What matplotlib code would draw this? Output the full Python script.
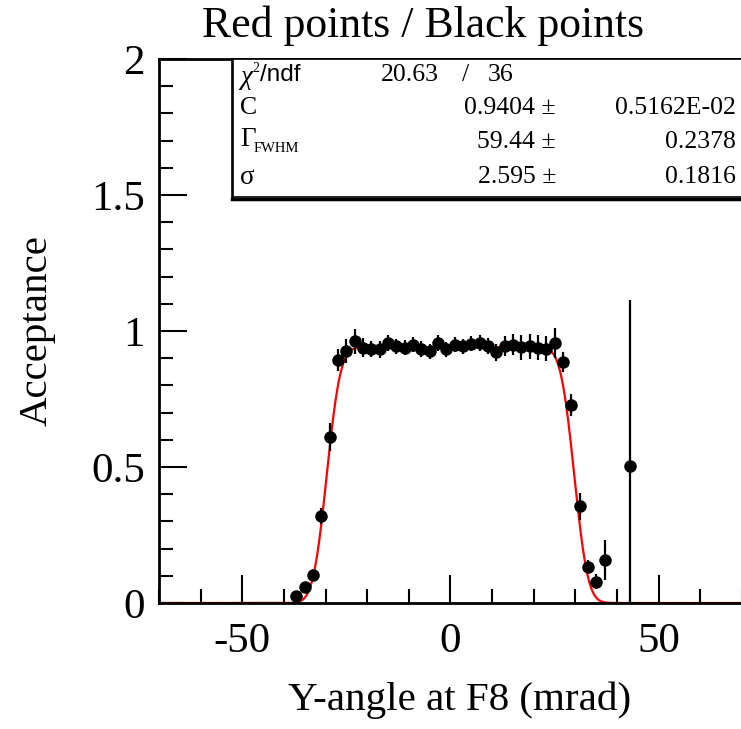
import math
import numpy as np
import matplotlib
matplotlib.use("Agg")
import matplotlib.pyplot as plt
from matplotlib.patches import Rectangle
from matplotlib.ticker import MultipleLocator, FixedLocator, FixedFormatter

# ---------------- data ----------------
x_vals = [-37, -35, -33, -31, -29, -27, -25, -23, -21, -19, -17, -15, -13, -11, -9, -7, -5, -3, -1,
          1, 3, 5, 7, 9, 11, 13, 15, 17, 19, 21, 23, 25, 27, 29, 31, 33, 35, 37, 43]
y_vals = [0.026, 0.058, 0.103, 0.319, 0.609, 0.892, 0.926, 0.962, 0.938, 0.934, 0.932, 0.956, 0.944,
          0.938, 0.950, 0.934, 0.926, 0.956, 0.932, 0.950, 0.944, 0.954, 0.956, 0.944, 0.922, 0.944,
          0.950, 0.940, 0.944, 0.938, 0.934, 0.956, 0.886, 0.727, 0.355, 0.134, 0.078, 0.158, 0.502]
y_errs = [0.008, 0.012, 0.012, 0.030, 0.052, 0.040, 0.045, 0.046, 0.035, 0.030, 0.030, 0.030, 0.028,
          0.028, 0.028, 0.028, 0.028, 0.028, 0.028, 0.028, 0.028, 0.028, 0.028, 0.030, 0.032, 0.036,
          0.040, 0.045, 0.046, 0.046, 0.046, 0.055, 0.037, 0.040, 0.050, 0.025, 0.028, 0.074, 0.612]

fit_C = 0.9404
fit_C_err = "0.5162E-02"
fit_G = 59.44
fit_G_err = "0.2378"
fit_sigma = 2.595
fit_sigma_err = "0.1816"
chi2 = "20.63"
ndf = "36"

title = "Red points / Black points"
xlabel = "Y-angle at F8 (mrad)"
ylabel = "Acceptance"
xtick_vals = [-50, 0, 50]
xtick_labels = ["-50", "0", "50"]
ytick_vals = [0, 0.5, 1, 1.5, 2]
ytick_labels = ["0", "0.5", "1", "1.5", "2"]

# ---------------- figure ----------------
W, H = 741, 729
fig = plt.figure(figsize=(W / 100, H / 100), dpi=100)
serif = "Liberation Serif"
sans = "Liberation Sans"

def fx(px):
    return px / W

def fy(py):
    return 1 - py / H

ax_l, ax_r, ax_t, ax_b = 159, 742, 59, 603
ax = fig.add_axes([fx(ax_l), fy(ax_b), fx(ax_r) - fx(ax_l), fy(ax_t) - fy(ax_b)])
ax.set_xlim(-70, 70)
ax.set_ylim(0, 2)

# fit curve
xx = np.linspace(-70, 70, 2001)
erf = np.vectorize(math.erf)
s2 = fit_sigma * math.sqrt(2)
yy = fit_C / 2 * (erf((xx + fit_G / 2) / s2) - erf((xx - fit_G / 2) / s2))
ax.plot(xx, yy, color="#ff0000", lw=1.6, zorder=2, clip_on=True)

ax.errorbar(x_vals, y_vals, yerr=y_errs, fmt="o", color="black", ms=8, elinewidth=1.6,
            capsize=0, zorder=3, clip_on=True)

for sp in ["left", "bottom", "top"]:
    ax.spines[sp].set_linewidth(2.0)
ax.spines["right"].set_visible(False)

ax.xaxis.set_major_locator(FixedLocator(xtick_vals))
ax.xaxis.set_major_formatter(FixedFormatter(xtick_labels))
ax.xaxis.set_minor_locator(MultipleLocator(10))
ax.yaxis.set_major_locator(FixedLocator(ytick_vals))
ax.yaxis.set_major_formatter(FixedFormatter(ytick_labels))
ax.yaxis.set_minor_locator(MultipleLocator(0.1))
ax.tick_params(which="major", direction="in", length=20, width=1.5, labelsize=31, pad=10)
ax.tick_params(which="minor", direction="in", length=10, width=1.5)
ax.tick_params(axis="x", pad=14)
for lab in ax.get_xticklabels() + ax.get_yticklabels():
    lab.set_fontfamily(serif)

fig.text(fx(460), fy(700), xlabel, fontsize=29.5, family=serif, ha="center", va="center")
fig.text(fx(37), fy(331), ylabel, fontsize=29.5, family=serif, ha="center", va="center",
         rotation=90)
fig.text(fx(423), fy(26), title, fontsize=31.5, family=serif, ha="center", va="center")

# stats box
box_l, box_t, box_b = 233, 59, 197
rect = Rectangle((fx(box_l), fy(box_b)), fx(W + 5) - fx(box_l), fy(box_t) - fy(box_b),
                 transform=fig.transFigure, fill=True, facecolor="white", edgecolor="black",
                 lw=1.2, zorder=5)
fig.add_artist(rect)
# shadow
fig.add_artist(plt.Line2D([fx(box_l - 1), fx(W + 5)], [fy(box_b + 1.5), fy(box_b + 1.5)],
                          transform=fig.transFigure, color="black", lw=2.5, zorder=6))
fig.add_artist(plt.Line2D([fx(box_l - 1.5), fx(box_l - 1.5)], [fy(box_t), fy(box_b + 2)],
                          transform=fig.transFigure, color="black", lw=1.2, zorder=6))

fs = 18.5
rows_y = [75, 108.5, 142, 177]
kw = dict(zorder=7, va="center")
tx = 240
# row 1
fig.text(fx(tx), fy(rows_y[0] + 2), "χ", fontsize=fs + 1, family=serif, style="italic", ha="left", **kw)
fig.text(fx(tx + 12), fy(rows_y[0] - 7), "2", fontsize=10, family=serif, ha="left", **kw)
fig.text(fx(tx + 20), fy(rows_y[0]), "/ndf", fontsize=fs - 1, family=sans, ha="left", **kw)
fig.text(fx(381), fy(rows_y[0]), chi2, fontsize=fs, family=serif, ha="left", **kw)
fig.text(fx(462), fy(rows_y[0]), "/", fontsize=fs, family=serif, ha="left", **kw)
fig.text(fx(488), fy(rows_y[0]), ndf, fontsize=fs, family=serif, ha="left", **kw)
# row 2
fig.text(fx(tx), fy(rows_y[1]), "C", fontsize=fs, family=serif, ha="left", **kw)
fig.text(fx(556), fy(rows_y[1]), f"{fit_C:.4f} ±", fontsize=fs, family=serif, ha="right", **kw)
fig.text(fx(736), fy(rows_y[1]), fit_C_err, fontsize=fs, family=serif, ha="right", **kw)
# row 3
fig.text(fx(tx), fy(rows_y[2] - 2), "Γ", fontsize=fs + 1, family=serif, ha="left", **kw)
fig.text(fx(tx + 14), fy(rows_y[2] + 7), "FWHM", fontsize=10.5, family=serif, ha="left", **kw)
fig.text(fx(556), fy(rows_y[2]), f"{fit_G:.2f} ±", fontsize=fs, family=serif, ha="right", **kw)
fig.text(fx(736), fy(rows_y[2]), fit_G_err, fontsize=fs, family=serif, ha="right", **kw)
# row 4
fig.text(fx(tx), fy(rows_y[3] + 1), "σ", fontsize=fs + 1, family=serif, ha="left", **kw)
fig.text(fx(556), fy(rows_y[3]), f"{fit_sigma:.3f} ±", fontsize=fs, family=serif, ha="right", **kw)
fig.text(fx(736), fy(rows_y[3]), fit_sigma_err, fontsize=fs, family=serif, ha="right", **kw)

fig.savefig("out.png", dpi=100)
